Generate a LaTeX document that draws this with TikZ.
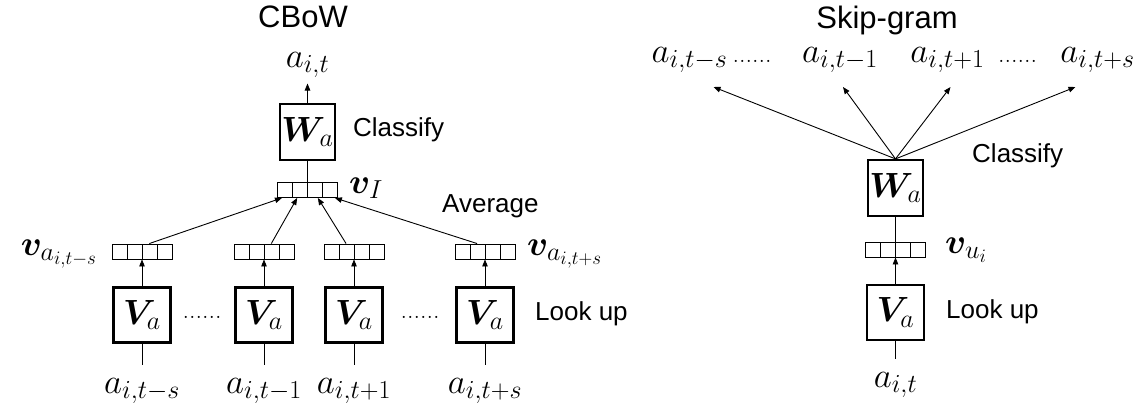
\RequirePackage{fix-cm}
\documentclass[tikz,border=0pt]{standalone}
\usepackage{fontspec}
\newfontfamily\arialfont{Liberation Sans}
\usepackage{amsmath, bm}
\usepackage{tikz}
\usetikzlibrary{arrows.meta, calc}
\DeclareMathSizes{35}{35}{26}{19}
\newcommand{\mfsize}{\fontsize{35}{38}\selectfont}

\begin{document}
\begin{tikzpicture}[x=1pt, y=-1pt,
  mbox/.style={draw, line width=2.2pt, inner sep=0pt, font=\mfsize},
  wsize/.style={minimum width=55pt, minimum height=56pt},
  vsize/.style={minimum width=57pt, minimum height=55pt},
  vec/.style={draw, line width=0.9pt, minimum width=60pt, minimum height=15pt, inner sep=0pt,
    path picture={
      \foreach \k in {0.25,0.5,0.75}
        \draw[line width=0.9pt] ($(path picture bounding box.south west)!\k!(path picture bounding box.south east)$)
          -- ($(path picture bounding box.north west)!\k!(path picture bounding box.north east)$);
    }},
  tok/.style={font=\mfsize, inner sep=1pt},
  dotsty/.style={font=\fontsize{26}{28}\selectfont, inner sep=0pt, anchor=base},
  lbl/.style={font=\arialfont\fontsize{26}{28}\selectfont, inner sep=0pt, anchor=base west},
  ttl/.style={font=\arialfont\fontsize{31}{34}\selectfont, inner sep=0pt, anchor=base},
  ln/.style={line width=0.9pt},
  arr/.style={line width=0.9pt, -{Triangle[length=7pt, width=5.5pt]}}
]
  \useasboundingbox (0,0) rectangle (1148,408);

  \node[ttl] (cbowttl) at (303,27) {CBoW};
  \node[ttl] (sgttl) at (887,28) {Skip-gram};

  % CBoW
  \node[tok, anchor=base] (outc) at (307.5,67) {$a_{i,t}$};
  \node[mbox, wsize] (Wc) at (307.5,132) {$\bm{W}_a$};
  \node[lbl] (clsc) at (353,136) {Classify};
  \node[vec] (vI) at (307.5,190) {};
  \node[tok, anchor=base west] (vIl) at (348,193) {$\bm{v}_I$};
  \node[lbl] (avg) at (442,212) {Average};

  \node[vec] (v1) at (142,251.5) {};
  \node[vec] (v2) at (264,251.5) {};
  \node[vec] (v3) at (354,251.5) {};
  \node[vec] (v4) at (485,251.5) {};
  \node[tok, anchor=base east] (v1l) at (98,255) {$\bm{v}_{a_{i,t-s}}$};
  \node[tok, anchor=base west] (v4l) at (526,255) {$\bm{v}_{a_{i,t+s}}$};

  \node[mbox, vsize] (V1) at (142,315) {$\bm{V}_a$};
  \node[mbox, vsize] (V2) at (264,315) {$\bm{V}_a$};
  \node[mbox, vsize] (V3) at (354,315) {$\bm{V}_a$};
  \node[mbox, vsize] (V4) at (485,315) {$\bm{V}_a$};
  \node[dotsty] (dc1) at (202,318) {......};
  \node[dotsty] (dc2) at (420,318) {......};
  \node[lbl] (luc) at (535,320) {Look up};

  \node[tok, anchor=base] (x1) at (142,393) {$a_{i,t-s}$};
  \node[tok, anchor=base] (x2) at (264,393) {$a_{i,t-1}$};
  \node[tok, anchor=base] (x3) at (354,393) {$a_{i,t+1}$};
  \node[tok, anchor=base] (x4) at (485,393) {$a_{i,t+s}$};

  \draw[arr, shorten >=5pt] (Wc.north) -- (outc.south);
  \draw[ln] (Wc.south) -- (vI.north);
  \draw[arr] ($(v1.north west)!0.62!(v1.north east)$) -- ($(vI.south west)!0.08!(vI.south east)$);
  \draw[arr] ($(v2.north west)!0.62!(v2.north east)$) -- ($(vI.south west)!0.33!(vI.south east)$);
  \draw[arr] ($(v3.north west)!0.37!(v3.north east)$) -- ($(vI.south west)!0.67!(vI.south east)$);
  \draw[arr] ($(v4.north west)!0.37!(v4.north east)$) -- ($(vI.south west)!0.95!(vI.south east)$);
  \draw[arr] (V1.north) -- (v1.south);
  \draw[arr] (V2.north) -- (v2.south);
  \draw[arr] (V3.north) -- (v3.south);
  \draw[arr] (V4.north) -- (v4.south);
  \draw[ln, shorten >=12pt] (V1.south) -- (x1.north);
  \draw[ln, shorten >=12pt] (V2.south) -- (x2.north);
  \draw[ln, shorten >=12pt] (V3.south) -- (x3.north);
  \draw[ln, shorten >=12pt] (V4.south) -- (x4.north);

  % Skip-gram
  \node[tok, anchor=base] (s1) at (689.5,62) {$a_{i,t-s}$};
  \node[dotsty] (ds1) at (752,62) {......};
  \node[tok, anchor=base] (s2) at (840,62) {$a_{i,t-1}$};
  \node[tok, anchor=base] (s3) at (947.5,62) {$a_{i,t+1}$};
  \node[dotsty] (ds2) at (1017.5,62) {......};
  \node[tok, anchor=base] (s4) at (1097.5,62) {$a_{i,t+s}$};
  \coordinate (t1) at ($(s1.base)+(24,25)$);
  \coordinate (t2) at ($(s2.base)+(3,25)$);
  \coordinate (t3) at ($(s3.base)+(3,25)$);
  \coordinate (t4) at ($(s4.base)+(-22,25)$);

  \node[mbox, wsize] (Ws) at (895.5,188) {$\bm{W}_a$};
  \node[lbl] (clss) at (972,162) {Classify};
  \node[vec] (vu) at (895.5,249.5) {};
  \node[tok, anchor=base west] (vul) at (944,253) {$\bm{v}_{u_i}$};
  \node[mbox, vsize] (Vs) at (895.5,312.5) {$\bm{V}_a$};
  \node[lbl] (lus) at (946,318) {Look up};
  \node[tok, anchor=base] (xs) at (895.5,387) {$a_{i,t}$};

  \draw[arr] (Ws.north) -- (t1);
  \draw[arr] (Ws.north) -- (t2);
  \draw[arr] (Ws.north) -- (t3);
  \draw[arr] (Ws.north) -- (t4);
  \draw[ln] (Ws.south) -- (vu.north);
  \draw[arr] (Vs.north) -- (vu.south);
  \draw[ln, shorten >=12pt] (Vs.south) -- (xs.north);
\end{tikzpicture}
\end{document}
